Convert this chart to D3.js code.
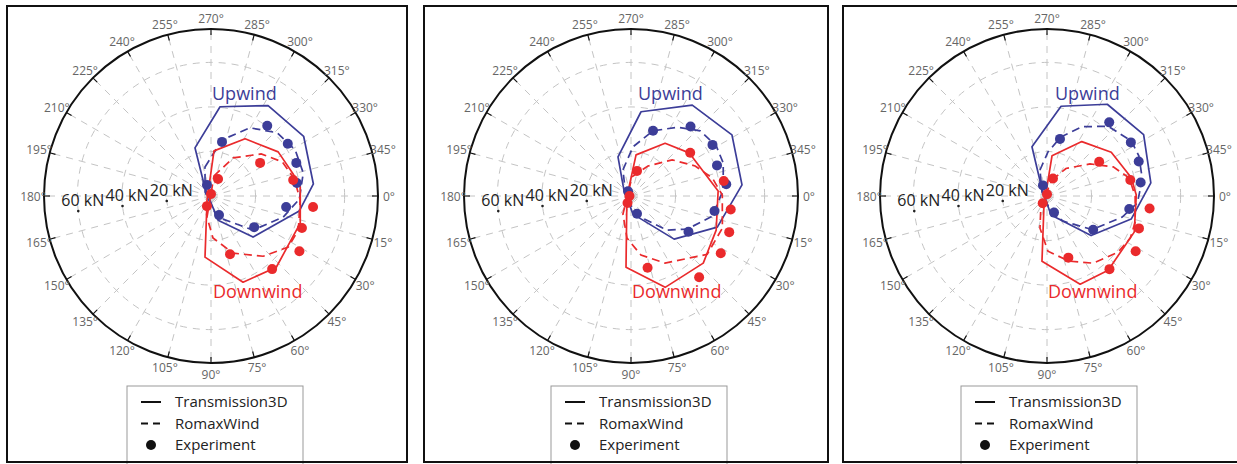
<!DOCTYPE html>
<html>
<head>
<meta charset="utf-8">
<script src="https://cdn.jsdelivr.net/npm/d3@7"></script>
<style>
  html, body { margin: 0; padding: 0; background: #fff; }
  svg { display: block; }
  text { font-family: "Open Sans", "Noto Sans", sans-serif; }
</style>
</head>
<body>
<svg id="chart" width="1237" height="464"></svg>
<script>
// ---------- data (angle in degrees, clockwise from 0° at right; load in kN) ----------
const angleTicks = d3.range(0, 360, 15);
const radialTicks = [20, 40, 60];
const radialLabels = ["20 kN", "40 kN", "60 kN"];
const seriesNames = ["Transmission3D", "RomaxWind", "Experiment"];
const groupLabels = ["Upwind", "Downwind"];

// Panel 1
const p1UpT3D = [[251.6,22.8],[275.8,40.3],[302.3,48.0],[327.2,49.5],[353.3,46.3],[9.7,40.2],[44.3,26.4],[73.7,11.3],[233.1,4.5]];
const p1UpRomax = [[258.3,13.3],[281.1,25.7],[299.8,35.3],[316.3,41.1],[331.3,43.1],[346.0,42.7],[2.0,39.7],[16.3,33.8],[39.0,24.3],[74.0,9.8],[213.7,3.2]];
const p1UpExp = [[308.7,40.4],[281.5,24.8],[325.8,41.7],[338.8,41.1],[351.4,39.0],[8.3,34.1],[35.8,23.9],[67.2,9.3],[250.0,5.3]];
const p1DownT3D = [[273.8,20.3],[300.8,29.9],[326.7,36.1],[345.0,38.2],[354.2,40.3],[16.9,41.9],[47.5,43.4],[69.6,41.3],[95.6,27.6],[135.0,2.5]];
const p1DownRomax = [[278.5,9.1],[300.1,19.8],[320.0,29.4],[334.4,35.5],[348.4,38.2],[2.6,40.1],[21.3,42.1],[33.5,41.6],[49.1,35.8],[68.9,27.5],[87.3,18.9],[100.8,9.6]];
const p1DownExp = [[326.0,26.6],[292.4,8.3],[349.0,37.6],[270.0,0.9],[111.8,4.9],[6.2,46.1],[19.4,43.3],[32.0,46.8],[50.1,42.8],[71.9,27.5]];

// Panel 2
const p2UpT3D = [[251.6,18.5],[276.8,38.1],[304.0,49.2],[328.8,53.0],[354.3,50.1],[19.8,41.2],[45.0,27.4],[83.7,8.2],[220.6,4.2]];
const p2UpRomax = [[252.9,12.3],[272.3,22.1],[288.7,30.9],[303.9,37.2],[316.7,42.7],[329.5,44.4],[340.3,44.0],[356.3,41.5],[13.9,37.6],[30.5,29.3],[43.4,22.3],[70.7,9.5],[158.2,2.4]];
const p2UpExp = [[288.7,30.9],[310.6,41.1],[327.9,43.2],[340.4,41.0],[353.0,43.1],[10.2,38.1],[31.9,30.4],[71.3,8.4],[237.4,2.5]];
const p2DownT3D = [[277.0,18.6],[302.9,28.2],[323.4,32.5],[356.7,39.2],[21.8,41.2],[42.9,44.3],[69.5,43.8],[94.0,32.1],[166.0,1.9]];
const p2DownRomax = [[273.0,8.6],[299.5,15.5],[318.7,24.6],[334.9,31.8],[347.5,37.4],[359.4,41.0],[19.4,43.5],[37.4,43.1],[63.1,33.8],[80.4,26.9],[95.4,19.0],[114.0,8.9]];
const p2DownExp = [[283.5,11.6],[323.9,32.9],[350.8,42.2],[180.0,0.7],[116.6,3.5],[7.7,45.2],[20.2,47.0],[32.5,47.8],[50.0,47.6],[77.0,33.1]];

// Panel 3
const p3UpT3D = [[253.0,23.1],[278.9,40.8],[303.3,49.3],[327.6,51.4],[352.8,47.0],[15.3,39.2],[41.9,26.6],[78.1,8.7],[234.5,3.9]];
const p3UpRomax = [[254.9,12.1],[271.3,19.8],[283.3,27.3],[296.9,34.9],[311.3,41.7],[326.8,45.2],[336.4,45.0],[349.9,43.5],[4.4,40.7],[15.6,35.1],[36.7,25.3],[57.4,13.4],[77.9,6.4],[218.7,2.9]];
const p3UpExp = [[310.2,43.3],[282.8,26.3],[327.4,44.7],[339.4,44.0],[351.8,42.5],[9.0,37.4],[36.2,25.7],[67.0,8.1],[249.1,5.1]];
const p3DownT3D = [[277.1,18.2],[302.6,29.0],[325.8,34.9],[347.6,38.7],[359.4,40.1],[22.5,42.4],[50.5,43.2],[69.4,42.3],[94.4,29.4],[108.4,4.3]];
const p3DownRomax = [[287.4,7.6],[304.6,15.0],[323.3,24.1],[336.3,32.5],[347.6,37.8],[0.0,39.6],[16.5,41.3],[26.8,41.9],[38.3,40.7],[55.5,36.6],[71.3,30.9],[89.0,24.8],[102.3,14.8],[123.7,4.9]];
const p3DownExp = [[326.8,28.0],[288.9,8.3],[349.1,38.1],[270.0,0.8],[120.5,3.8],[6.9,46.4],[19.4,43.8],[31.9,46.9],[49.5,43.2],[70.9,29.3]];

const panels = [
  {up: [p1UpT3D, p1UpRomax, p1UpExp], down: [p1DownT3D, p1DownRomax, p1DownExp]},
  {up: [p2UpT3D, p2UpRomax, p2UpExp], down: [p2DownT3D, p2DownRomax, p2DownExp]},
  {up: [p3UpT3D, p3UpRomax, p3UpExp], down: [p3DownT3D, p3DownRomax, p3DownExp]}
];

// ---------- layout ----------
const layout = [
  {frameX: 7,   frameW: 400, cx: 211,  legendX: 127, upDx: 1, downDx: 2},
  {frameX: 424, frameW: 404, cx: 631,  legendX: 551, upDx: 7, downDx: 1},
  {frameX: 843, frameW: 402, cx: 1047, legendX: 961, upDx: 8, downDx: 1}
];
const cy = 196;
const rMax = 75;
const blue = "#3c3d98";
const red = "#ea2a2c";

const svg = d3.select("#chart");
const rScale = d3.scaleLinear().domain([0, rMax]).range([0, 167]);
// clockwise from the right (east); d3 radial angles are clockwise from north
const aScale = d3.scaleLinear().domain([0, 360]).range([Math.PI / 2, Math.PI / 2 + 2 * Math.PI]);

const line = d3.lineRadial()
  .angle(d => aScale(d[0]))
  .radius(d => rScale(d[1]))
  .curve(d3.curveLinearClosed);

panels.forEach((p, i) => {
  const L = layout[i];
  // frame
  svg.append("rect")
    .attr("x", L.frameX).attr("y", 6)
    .attr("width", L.frameW).attr("height", 456)
    .attr("fill", "#fff").attr("stroke", "#111").attr("stroke-width", 2);

  const g = svg.append("g").attr("transform", `translate(${L.cx},${cy})`);

  // grid rings
  g.selectAll(".ring").data(radialTicks).join("circle")
    .attr("r", d => rScale(d))
    .attr("fill", "none").attr("stroke", "#c4c4c4").attr("stroke-width", 1)
    .attr("stroke-dasharray", "7,6");

  // spokes
  g.selectAll(".spoke").data(angleTicks).join("line")
    .attr("x1", 0).attr("y1", 0)
    .attr("x2", d => d3.pointRadial(aScale(d), rScale(rMax))[0])
    .attr("y2", d => d3.pointRadial(aScale(d), rScale(rMax))[1])
    .attr("stroke", "#c4c4c4").attr("stroke-width", 1)
    .attr("stroke-dasharray", "7,6");

  // outer circle
  g.append("circle").attr("r", rScale(rMax))
    .attr("fill", "none").attr("stroke", "#111").attr("stroke-width", 2);

  // ticks
  g.selectAll(".tick").data(angleTicks).join("line")
    .attr("x1", d => d3.pointRadial(aScale(d), rScale(rMax))[0])
    .attr("y1", d => d3.pointRadial(aScale(d), rScale(rMax))[1])
    .attr("x2", d => d3.pointRadial(aScale(d), rScale(rMax) - 6)[0])
    .attr("y2", d => d3.pointRadial(aScale(d), rScale(rMax) - 6)[1])
    .attr("stroke", "#111").attr("stroke-width", 1.2);

  // angle labels
  g.selectAll(".alab").data(angleTicks).join("text")
    .attr("x", d => d3.pointRadial(aScale(d), 178)[0])
    .attr("y", d => d3.pointRadial(aScale(d), 178)[1])
    .attr("text-anchor", "middle").attr("dominant-baseline", "central")
    .attr("font-size", 12).attr("fill", "#666")
    .text(d => d + "°");

  // radial labels
  radialTicks.forEach((v, k) => {
    const [x, y] = d3.pointRadial(aScale(173.5), rScale(v));
    g.append("circle").attr("cx", x).attr("cy", y).attr("r", 1.3).attr("fill", "#222");
    g.append("text").attr("x", x - 17).attr("y", y - 5)
      .attr("font-size", 16).attr("fill", "#222")
      .text(radialLabels[k]);
  });

  // lines
  const drawGroup = (series, color) => {
    g.append("path").datum(series[0]).attr("d", line)
      .attr("fill", "none").attr("stroke", color).attr("stroke-width", 1.7)
      .attr("stroke-linejoin", "round");
    g.append("path").datum(series[1]).attr("d", line)
      .attr("fill", "none").attr("stroke", color).attr("stroke-width", 1.7)
      .attr("stroke-dasharray", "8,5");
  };
  drawGroup(p.up, blue);
  drawGroup(p.down, red);

  const drawDots = (data, color) => {
    g.selectAll(null).data(data).join("circle")
      .attr("cx", d => d3.pointRadial(aScale(d[0]), rScale(d[1]))[0])
      .attr("cy", d => d3.pointRadial(aScale(d[0]), rScale(d[1]))[1])
      .attr("r", 5).attr("fill", color);
  };
  drawDots(p.up[2], blue);
  drawDots(p.down[2], red);

  // group labels
  g.append("text").attr("x", L.upDx).attr("y", 99.5 - cy)
    .attr("font-size", 18).attr("fill", blue).text(groupLabels[0]);
  g.append("text").attr("x", L.downDx).attr("y", 297.5 - cy)
    .attr("font-size", 18).attr("fill", red).text(groupLabels[1]);

  // legend
  const lg = svg.append("g").attr("transform", `translate(${L.legendX},386)`);
  lg.append("rect").attr("x", 0).attr("y", 0).attr("width", 176).attr("height", 80)
    .attr("fill", "#fff").attr("stroke", "#999").attr("stroke-width", 1);
  const rows = [16, 37.5, 59];
  seriesNames.forEach((name, k) => {
    const ry = rows[k];
    if (k === 0) {
      lg.append("line").attr("x1", 14).attr("x2", 34).attr("y1", ry).attr("y2", ry)
        .attr("stroke", "#111").attr("stroke-width", 2);
    } else if (k === 1) {
      lg.append("line").attr("x1", 14).attr("x2", 34).attr("y1", ry).attr("y2", ry)
        .attr("stroke", "#111").attr("stroke-width", 2).attr("stroke-dasharray", "7,5");
    } else {
      lg.append("circle").attr("cx", 24).attr("cy", ry).attr("r", 5).attr("fill", "#111");
    }
    lg.append("text").attr("x", 48).attr("y", ry + 5)
      .attr("font-size", 15).attr("fill", "#222").text(name);
  });
});
// redraw bottom edge of frames over legends
layout.forEach(L => {
  svg.append("line").attr("x1", L.frameX).attr("x2", L.frameX + L.frameW)
    .attr("y1", 462).attr("y2", 462).attr("stroke", "#111").attr("stroke-width", 2);
});
</script>
</body>
</html>
